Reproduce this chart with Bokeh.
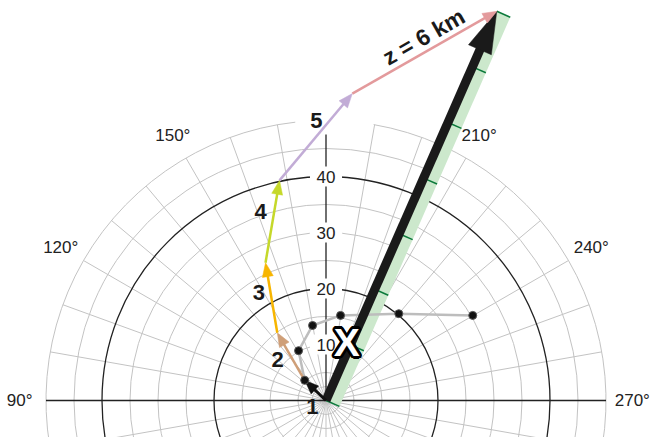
import numpy as np
from bokeh.plotting import figure
from bokeh.models import Range1d
from bokeh.core.properties import value
from bokeh.embed import file_html
from bokeh.resources import INLINE

# ---------------- data (knots) ----------------
layer_labels = ["1", "2", "3", "4", "5"]
hodo_u = [0.0, -3.8, -8.7, -10.8, -8.3, 4.7, 30.5]
hodo_v = [0.0, 3.6, 12.1, 24.6, 39.3, 54.8, 69.5]
top_label = "z = 6 km"
obs_u = [-3.8, -4.9, -2.4, 2.6, 13.0, 26.2]
obs_v = [3.6, 8.9, 13.4, 15.2, 15.5, 15.2]
mark_u = [3.7]
mark_v = [10.4]
mark_label = ["X"]
ring_speeds = [2.5, 5, 10, 15, 20, 25, 30, 35, 40, 45, 50]
bold_rings = [20, 40]
speed_labels = [10, 20, 30, 40]
dir_labels = [90, 120, 150, 210, 240, 270]
radial_dirs = list(range(0, 360, 10))
shear_ticks = 7

# ---------------- style ----------------
S = 5.6                    # px per knot
OX, OY = 325.5, 400.0      # origin in page px
PX0, PY0 = 0, 0            # figure top-left in page px
W, H = 663, 437
FONT = "Liberation Sans"
GRID = "#c3c3c3"
DARK = "#222222"
seg_colors = ["#111111", "#cf9f78", "#f7b500", "#c5d82a", "#c2acd6", "#e39a9c"]
RMAX = 50

p = figure(width=W, height=H, output_backend="svg", toolbar_location=None,
           x_range=Range1d((PX0 - OX) / S, (PX0 + W - OX) / S),
           y_range=Range1d((OY - (PY0 + H)) / S, (OY - PY0) / S),
           min_border=0)
p.axis.visible = False
p.grid.visible = False
p.outline_line_color = None
p.background_fill_color = "white"
p.border_fill_color = "white"


def uv(theta_deg, r):
    t = np.radians(theta_deg)
    return -r * np.sin(t), -r * np.cos(t)


# rings
grey_r = [r for r in ring_speeds if r not in bold_rings and r != RMAX]
p.arc(x=[0] * len(grey_r), y=[0] * len(grey_r), radius=grey_r,
      start_angle=0, end_angle=2 * np.pi, line_color=GRID, line_width=1)
# outer ring with a gap at the top
p.arc(x=[0], y=[0], radius=[RMAX], start_angle=np.radians(96.3),
      end_angle=np.radians(80.2), line_color=GRID, line_width=1)

# radial lines
rd = [d for d in radial_dirs if d not in (90, 180, 270)]
x1, y1 = uv(np.array(rd, dtype=float), RMAX)
p.segment(x0=[0] * len(rd), y0=[0] * len(rd), x1=x1, y1=y1,
          line_color=GRID, line_width=1)

p.arc(x=[0] * len(bold_rings), y=[0] * len(bold_rings), radius=bold_rings,
      start_angle=0, end_angle=2 * np.pi, line_color=DARK, line_width=1.3)

# main axes
xl, _ = uv(90, RMAX)
xr, _ = uv(270, RMAX)
p.segment(x0=[xl], y0=[0], x1=[xr], y1=[0], line_color=DARK, line_width=1.3)
p.segment(x0=[0], y0=[0], x1=[0], y1=[RMAX - 2.5], line_color=DARK, line_width=1.3)

# speed labels with white boxes
p.rect(x=[0] * len(speed_labels), y=speed_labels, width=32 / S, height=20 / S,
       fill_color="white", line_color=None)
p.text(x=[0] * len(speed_labels), y=speed_labels, text=[str(s) for s in speed_labels],
       text_font=value(FONT), text_font_size="17px", text_color=DARK,
       text_align="center", text_baseline="middle")

# direction labels
dx_, dy_ = uv(np.array(dir_labels, dtype=float), 54.7)
p.text(x=dx_, y=dy_, text=[f"{d}°" for d in dir_labels],
       text_font=value(FONT), text_font_size="17px", text_color=DARK,
       text_align="center", text_baseline="middle")

# shear vector band
U, V = hodo_u[-1], hodo_v[-1]
Ln = np.hypot(U, V)
ux, uy = U / Ln, V / Ln
nx, ny = uy, -ux
bw = 14.7 / S
p.patch(x=[0, U, U + nx * bw, nx * bw], y=[0, V, V + ny * bw, ny * bw],
        fill_color="#cce8cc", line_color=None)
fr = [i / shear_ticks for i in range(shear_ticks + 1)]
p.segment(x0=[f * U for f in fr], y0=[f * V for f in fr],
          x1=[f * U + nx * bw for f in fr], y1=[f * V + ny * bw for f in fr],
          line_color="#0b7a3b", line_width=1.5)

# observed wind line
p.line(x=obs_u, y=obs_v, line_color="#bdbdbd", line_width=2.5)


def arrow(x0, y0, x1, y1, color, lw, L, Wd):
    dx, dy = x1 - x0, y1 - y0
    n = np.hypot(dx, dy)
    ax, ay = dx / n, dy / n
    Lu, Wu = L / S, Wd / S
    bx, by = x1 - ax * Lu, y1 - ay * Lu
    sx, sy = x1 - ax * Lu * 0.6, y1 - ay * Lu * 0.6
    p.line(x=[x0, sx], y=[y0, sy], line_color=color, line_width=lw, line_cap="butt")
    p.patch(x=[x1, bx - ay * Wu, bx + ay * Wu], y=[y1, by + ax * Wu, by - ax * Wu],
            fill_color=color, line_color=color, line_width=0.5)


# bulk shear arrow
arrow(0, 0, U, V, "#1a1a1a", 9, 42, 12.5)

# layer arrows
for i in range(len(hodo_u) - 1):
    arrow(hodo_u[i], hodo_v[i], hodo_u[i + 1], hodo_v[i + 1], seg_colors[i],
          3 if i == 0 else 2.5, 14, 5.5)

p.scatter(x=obs_u, y=obs_v, size=8, fill_color="#111111", line_color="#555555")

# X mark: black halo then white letter
for a in np.linspace(0, 2 * np.pi, 16, endpoint=False):
    p.text(x=mark_u, y=mark_v, text=mark_label, text_font=value(FONT),
           text_font_size="39px", text_font_style="bold", text_color="black",
           x_offset=2.8 * np.cos(a), y_offset=2.8 * np.sin(a),
           text_align="center", text_baseline="middle")
p.text(x=mark_u, y=mark_v, text=mark_label, text_font=value(FONT),
       text_font_size="39px", text_font_style="bold", text_color="white",
       text_align="center", text_baseline="middle")

# layer number labels
offs = [(-3, 16), (-13.5, 3), (-12.5, -5.5), (-12, -10.5), (0.5, -17)]
lx, ly = [], []
for i, (ox, oy) in enumerate(offs):
    mx = (hodo_u[i] + hodo_u[i + 1]) / 2
    my = (hodo_v[i] + hodo_v[i + 1]) / 2
    lx.append(mx + ox / S)
    ly.append(my - oy / S)
p.text(x=lx, y=ly, text=layer_labels, text_font=value(FONT), text_font_size="22px",
       text_font_style="bold", text_color="#1a1a1a", text_align="center",
       text_baseline="middle")

# z = 6 km label along the last segment
x0, y0, x1_, y1_ = hodo_u[-2], hodo_v[-2], hodo_u[-1], hodo_v[-1]
dd = np.hypot(x1_ - x0, y1_ - y0)
ax_, ay_ = (x1_ - x0) / dd, (y1_ - y0) / dd
cx = (x0 + x1_) / 2 + ax_ * 7 / S - ay_ * 14 / S
cy = (y0 + y1_) / 2 + ay_ * 7 / S + ax_ * 14 / S
p.text(x=[cx], y=[cy], text=[top_label], angle=np.arctan2(y1_ - y0, x1_ - x0),
       text_font=value(FONT), text_font_size="23px", text_font_style="bold",
       text_color="#1a1a1a", text_align="center", text_baseline="middle")

open("out.html", "w").write(file_html(p, INLINE))
